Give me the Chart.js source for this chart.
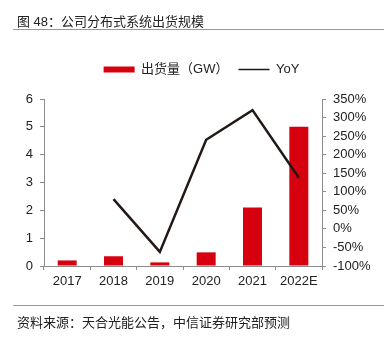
<!DOCTYPE html>
<html lang="zh-CN">
  <head>
    <meta charset="UTF-8" />
    <title>公司分布式系统出货规模</title>
    <script src="https://cdn.jsdelivr.net/npm/chart.js"></script>
    <style>
      body { margin: 0; background: #fff; }
      .wrap { position: relative; width: 390px; height: 340px; font-family: "Liberation Sans", Arial, "Noto Sans CJK SC", sans-serif; color: #222; }
      .titulo { position: absolute; left: 17px; top: 11px; font-size: 13px; }
      .linha { position: absolute; left: 13px; width: 371px; height: 1px; background: #e07a7a; }
      .fonte { position: absolute; left: 17px; top: 312px; font-size: 13px; }
      canvas { position: absolute; left: 0; top: 0; }
    </style>
  </head>
  <body>
    <div class="wrap">
      <canvas id="myChart" width="390" height="340"></canvas>
      <div class="titulo">图 48：公司分布式系统出货规模</div>
      <div class="linha" style="top: 29px;"></div>
      <div class="linha" style="top: 305px;"></div>
      <div class="fonte">资料来源：天合光能公告，中信证券研究部预测</div>
    </div>

<script>
  // dados
  var anos = ["2017", "2018", "2019", "2020", "2021", "2022E"];
  var envios = [0.2, 0.35, 0.13, 0.49, 2.1, 5.0];
  var yoy = [null, 80, -62, 240, 320, 138];

  var fonte = "'Liberation Sans', Arial, 'Noto Sans CJK SC', sans-serif";
  var cinza = "#8c8c8c";

  // legenda um pouco mais alta
  var ajusteLegenda = {
    id: "ajusteLegenda",
    beforeInit: function (chart) {
      var fit = chart.legend.fit;
      chart.legend.fit = function () {
        fit.bind(chart.legend)();
        this.height = 46;
      };
    }
  };

  const ctx = document.getElementById("myChart");
  new Chart(ctx, {
    data: {
      labels: anos,
      datasets: [
        {
          type: "bar",
          label: "出货量（GW）",
          data: envios,
          backgroundColor: "#d7000f",
          borderWidth: 0,
          barPercentage: 0.41,
          categoryPercentage: 1,
          yAxisID: "y",
          order: 1,
        },
        {
          type: "line",
          label: "YoY",
          data: yoy,
          borderColor: "#231815",
          backgroundColor: "#231815",
          borderWidth: 2.5,
          pointRadius: 0,
          tension: 0,
          yAxisID: "y2",
          order: 0,
        },
      ],
    },
    options: {
      responsive: false,
      animation: false,
      layout: { padding: { left: 13, right: 0, top: 53, bottom: 0 } },
      plugins: {
        tooltip: { enabled: false },
        legend: {
          labels: {
            usePointStyle: true,
            pointStyleWidth: 31,
            boxHeight: 6,
            padding: 10,
            color: "#222",
            font: { family: fonte, size: 13 },
            generateLabels: function (chart) {
              return chart.data.datasets.map(function (ds, i) {
                var linha = ds.type === "line";
                return {
                  text: ds.label,
                  datasetIndex: i,
                  fillStyle: ds.backgroundColor,
                  strokeStyle: linha ? ds.borderColor : ds.backgroundColor,
                  lineWidth: linha ? 1.5 : 0,
                  pointStyle: linha ? "line" : "rect",
                  fontColor: "#222",
                  hidden: !chart.isDatasetVisible(i),
                };
              });
            },
          },
        },
      },
      scales: {
        x: {
          grid: { offset: true, drawOnChartArea: false, color: cinza, tickLength: 4 },
          border: { color: cinza },
          ticks: { color: "#222", padding: 4, font: { family: fonte, size: 13 } },
          afterFit: function (scale) { scale.height = 74; },
        },
        y: {
          position: "left",
          min: 0,
          max: 6,
          grid: { drawOnChartArea: false, color: cinza, tickLength: 4 },
          border: { color: cinza },
          ticks: { stepSize: 1, autoSkip: false, color: "#222", padding: 7, font: { family: fonte, size: 13 } },
          afterFit: function (scale) { scale.width = 31; },
        },
        y2: {
          position: "right",
          min: -100,
          max: 350,
          grid: { drawOnChartArea: false, color: cinza, tickLength: 4 },
          border: { color: cinza },
          ticks: {
            stepSize: 50,
            autoSkip: false,
            color: "#222",
            padding: 7,
            font: { family: fonte, size: 13 },
            callback: function (v) { return v + "%"; },
          },
          afterFit: function (scale) { scale.width = 68; },
        },
      },
    },
    plugins: [ajusteLegenda],
  });
</script>
  </body>
</html>
